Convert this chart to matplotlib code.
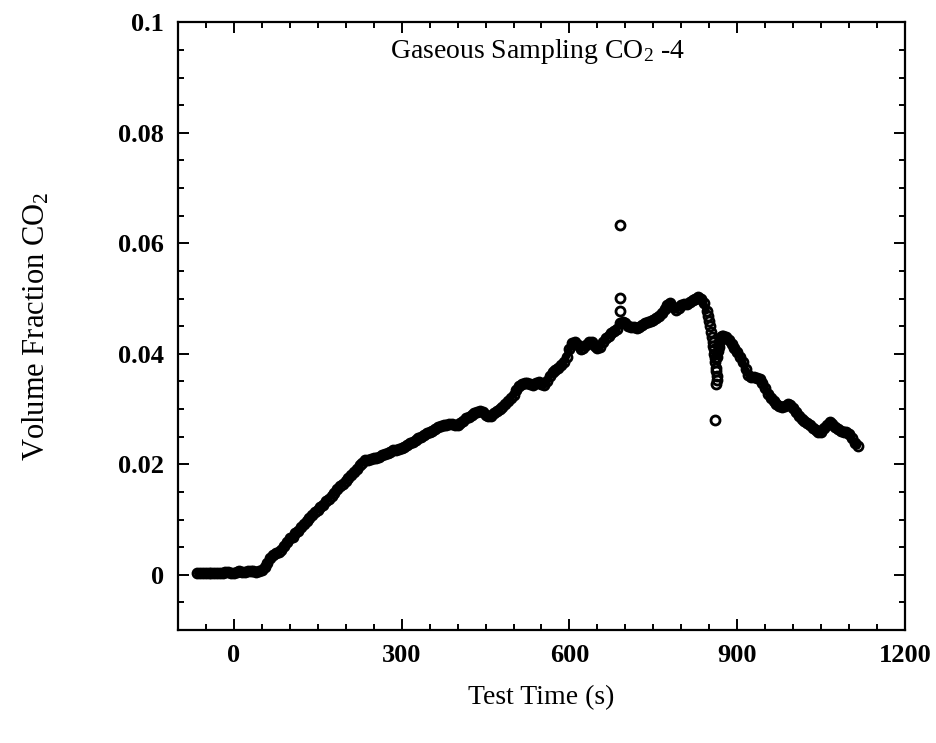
import matplotlib
matplotlib.use("Agg")
import matplotlib.pyplot as plt
from matplotlib.ticker import MultipleLocator, FuncFormatter

plt.rcParams['font.family'] = ['Liberation Serif', 'DejaVu Serif']
plt.rcParams['mathtext.fontset'] = 'custom'
plt.rcParams['mathtext.rm'] = 'Liberation Serif'
plt.rcParams['mathtext.default'] = 'regular'

# ---- data ----
# regular sampling every 5 s from -65 s to 845 s
t_main1 = list(range(-65, 850, 5))
v_main1 = [
    0.0003, 0.0004, 0.0004, 0.0004, 0.0003, 0.0003, 0.0003, 0.0004, 0.0004, 0.0004,
    0.0005, 0.0005, 0.0004, 0.0004, 0.0005, 0.0006, 0.0005, 0.0005, 0.0006, 0.0007,
    0.0006, 0.0005, 0.0006,
    0.0009, 0.0014, 0.0021, 0.0030, 0.0036, 0.0040, 0.0042, 0.0045, 0.0052, 0.0060,
    0.0066, 0.0068, 0.0075, 0.0080, 0.0086, 0.0092, 0.0097, 0.0102, 0.0108, 0.0113,
    0.0118, 0.0122, 0.0127, 0.0133, 0.0138, 0.0143, 0.0148, 0.0155, 0.0160, 0.0165,
    0.0170, 0.0175, 0.0180, 0.0186, 0.0192, 0.0198, 0.0203, 0.0207, 0.0208, 0.0209,
    0.0211, 0.0212, 0.0214, 0.0216, 0.0219, 0.0221, 0.0223, 0.0225, 0.0226, 0.0228,
    0.0230, 0.0232, 0.0235, 0.0238, 0.0241, 0.0244, 0.0247, 0.0250, 0.0253, 0.0256,
    0.0258, 0.0261, 0.0264, 0.0267, 0.0269, 0.0271, 0.0272, 0.0273, 0.0273, 0.0271,
    0.0272, 0.0275, 0.0279, 0.0283, 0.0286, 0.0290, 0.0293, 0.0295, 0.0296, 0.0294,
    0.0290, 0.0287, 0.0288, 0.0292, 0.0296, 0.0300, 0.0304, 0.0309, 0.0315, 0.0320,
    0.0326, 0.0334, 0.0341, 0.0345, 0.0347, 0.0348, 0.0346, 0.0344, 0.0347, 0.0349,
    0.0345, 0.0343, 0.0350, 0.0360, 0.0367, 0.0371, 0.0375, 0.0379, 0.0386, 0.0395,
    0.0408, 0.0420, 0.0422, 0.0416, 0.0409, 0.0410, 0.0416, 0.0422, 0.0421, 0.0414,
    0.0410, 0.0413, 0.0421, 0.0428, 0.0433, 0.0437, 0.0441, 0.0445, 0.0455, 0.0458,
    0.0455, 0.0451, 0.0449, 0.0448, 0.0447, 0.0448, 0.0452, 0.0455, 0.0458, 0.0460,
    0.0462, 0.0464, 0.0468, 0.0474, 0.0481, 0.0488, 0.0492, 0.0485, 0.0479, 0.0483,
    0.0488, 0.0491, 0.0490, 0.0493, 0.0497, 0.0500, 0.0502, 0.0499, 0.0492, 0.0478,
]

# sharp drop around 850-863 s
t_drop = [848, 850, 852, 853, 855, 856, 857, 858, 859, 860, 861, 862, 862, 863, 863, 862,
          861]
v_drop = [0.0468, 0.0460, 0.0450, 0.0440, 0.0430, 0.0422, 0.0415, 0.0408, 0.0400, 0.0393,
          0.0386, 0.0375, 0.0368, 0.0360, 0.0352, 0.0345, 0.0280]

# recovery and decline, 864 s to 1115 s
t_main2 = [864, 865, 867, 868, 870, 871, 873, 875] + list(range(880, 1120, 5))
v_main2 = [
    0.0395, 0.0405, 0.0413, 0.0420, 0.0426, 0.0430, 0.0432, 0.0432,
    0.0430, 0.0425, 0.0418, 0.0410, 0.0403, 0.0395, 0.0385, 0.0372, 0.0362, 0.0358,
    0.0358, 0.0357, 0.0354, 0.0348, 0.0338, 0.0328, 0.0320, 0.0314, 0.0310, 0.0305,
    0.0303, 0.0305, 0.0309, 0.0308, 0.0302, 0.0294, 0.0287, 0.0282, 0.0278, 0.0274,
    0.0271, 0.0266, 0.0262, 0.0259, 0.0259, 0.0265, 0.0272, 0.0276, 0.0273, 0.0268,
    0.0264, 0.0261, 0.0258, 0.0259, 0.0255, 0.0247, 0.0238, 0.0233,
]

# isolated high readings near 690 s
t_spike = [690, 690, 690]
v_spike = [0.0633, 0.0501, 0.0478]

title_text = 'Gaseous Sampling CO$_2$ -4'
xlabel_text = 'Test Time (s)'
ylabel_text = 'Volume Fraction CO$_2$'

# ---- figure ----
fig = plt.figure(figsize=(9.36, 7.43), dpi=100)
ax = fig.add_axes([0.190, 0.152, 0.777, 0.818])

# dense sampling merges the circles into a solid band
for tt, vv in ((t_main1, v_main1), (t_main2, v_main2)):
    ax.plot(tt, vv, color='black', linewidth=5, solid_capstyle='round',
            solid_joinstyle='round')

t_all = t_main1 + t_drop + t_main2 + t_spike
v_all = v_main1 + v_drop + v_main2 + v_spike
ax.plot(t_all, v_all, linestyle='none', marker='o', markersize=6.5,
        markerfacecolor='none', markeredgecolor='black', markeredgewidth=2.0)

ax.set_xlim(-100, 1200)
ax.set_ylim(-0.01, 0.1)

ax.xaxis.set_major_locator(MultipleLocator(300))
ax.xaxis.set_minor_locator(MultipleLocator(50))
ax.yaxis.set_major_locator(MultipleLocator(0.02))
ax.yaxis.set_minor_locator(MultipleLocator(0.005))
ax.yaxis.set_major_formatter(FuncFormatter(lambda v, p: '%g' % round(v, 4)))
ax.xaxis.set_major_formatter(FuncFormatter(lambda v, p: '%d' % v))

ax.tick_params(which='both', direction='in', top=True, right=True, width=1.4,
               colors='black')
ax.tick_params(which='major', length=8, labelsize=19, pad=10)
ax.tick_params(which='minor', length=4)
for lab in ax.get_xticklabels() + ax.get_yticklabels():
    lab.set_fontweight('bold')
for s in ax.spines.values():
    s.set_linewidth(1.6)

ax.set_xlabel(xlabel_text, fontsize=20, labelpad=13)
ax.set_ylabel(ylabel_text, fontsize=22, labelpad=48)
ax.text(0.495, 0.975, title_text, transform=ax.transAxes, ha='center', va='top',
        fontsize=20)

fig.savefig('out.png', dpi=100)
